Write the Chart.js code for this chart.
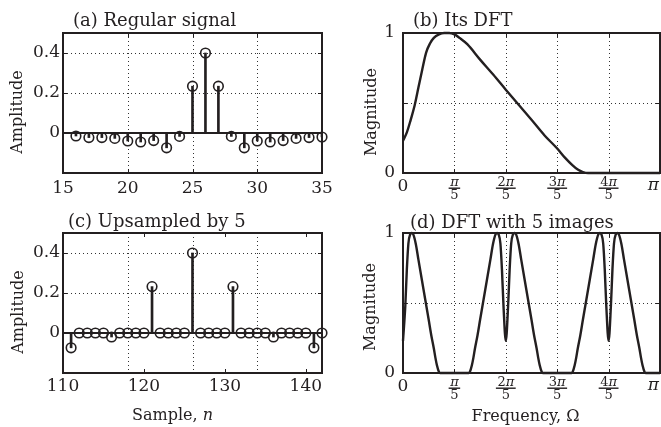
<!DOCTYPE html>
<html>
<head>
<meta charset="utf-8">
<script src="https://cdn.jsdelivr.net/npm/chart.js@4"></script>
<style>
html, body { margin: 0; padding: 0; background: #fff; }
body { width: 661px; height: 427px; position: relative; overflow: hidden; }
canvas { position: absolute; }
</style>
</head>
<body>
<canvas id="ca" width="340" height="200" style="left:0;top:0"></canvas>
<canvas id="cb" width="331" height="200" style="left:330px;top:0"></canvas>
<canvas id="cc" width="340" height="227" style="left:0;top:200px"></canvas>
<canvas id="cd" width="331" height="227" style="left:330px;top:200px"></canvas>
<script>
const serif = '"DejaVu Serif", serif';
const ink = '#231f20';

// (a) regular signal
const regN = [16, 17, 18, 19, 20, 21, 22, 23, 24, 25, 26, 27, 28, 29, 30, 31, 32, 33, 34, 35];
const regAmp = [-0.015, -0.023, -0.023, -0.027, -0.04, -0.045, -0.038, -0.074, -0.017, 0.234,
	0.4, 0.234, -0.017, -0.074, -0.04, -0.045, -0.038, -0.027, -0.023, -0.02];

// (c) upsampled by 5
const upN = [111, 112, 113, 114, 115, 116, 117, 118, 119, 120, 121, 122, 123, 124, 125, 126,
	127, 128, 129, 130, 131, 132, 133, 134, 135, 136, 137, 138, 139, 140, 141, 142];
const upAmp = [-0.074, 0, 0, 0, 0, -0.02, 0, 0, 0, 0, 0.232, 0, 0, 0, 0, 0.4,
	0, 0, 0, 0, 0.232, 0, 0, 0, 0, -0.02, 0, 0, 0, 0, -0.074, 0];

// (b) its DFT, frequency in units of pi
const dftFreq = [0, 0.015, 0.03, 0.045, 0.06, 0.075, 0.09, 0.105, 0.12, 0.14, 0.16, 0.18, 0.2, 0.22,
	0.25, 0.3, 0.35, 0.4, 0.45, 0.5, 0.55, 0.6, 0.63, 0.66, 0.68, 0.7, 0.72, 0.75, 0.8, 0.9, 1];
const dftMag = [0.23, 0.29, 0.38, 0.48, 0.61, 0.74, 0.86, 0.925, 0.965, 0.99, 1, 1, 0.99, 0.965,
	0.92, 0.81, 0.705, 0.595, 0.487, 0.38, 0.27, 0.175, 0.11, 0.055, 0.025, 0.007, 0, 0, 0, 0, 0];

// (d) DFT with 5 images
const imgFreq = [0, 0.009, 0.015, 0.021, 0.028, 0.034, 0.04, 0.05, 0.06, 0.08, 0.1, 0.11, 0.12, 0.126, 0.132, 0.14, 0.144,
	0.256, 0.26, 0.268, 0.274, 0.28, 0.29, 0.3, 0.32, 0.34, 0.35, 0.36, 0.366, 0.372, 0.379, 0.385, 0.391, 0.4,
	0.409, 0.415, 0.421, 0.428, 0.434, 0.44, 0.45, 0.46, 0.48, 0.5, 0.51, 0.52, 0.526, 0.532, 0.54, 0.544,
	0.656, 0.66, 0.668, 0.674, 0.68, 0.69, 0.7, 0.72, 0.74, 0.75, 0.76, 0.766, 0.772, 0.779, 0.785, 0.791, 0.8,
	0.809, 0.815, 0.821, 0.828, 0.834, 0.84, 0.85, 0.86, 0.88, 0.9, 0.91, 0.92, 0.926, 0.932, 0.94, 0.944, 1];
const imgMag = [0.23, 0.48, 0.74, 0.925, 0.99, 1, 0.99, 0.92, 0.81, 0.595, 0.38, 0.27, 0.175, 0.11, 0.055, 0.007, 0,
	0, 0.007, 0.055, 0.11, 0.175, 0.27, 0.38, 0.595, 0.81, 0.92, 0.99, 1, 0.99, 0.925, 0.74, 0.48, 0.23,
	0.48, 0.74, 0.925, 0.99, 1, 0.99, 0.92, 0.81, 0.595, 0.38, 0.27, 0.175, 0.11, 0.055, 0.007, 0,
	0, 0.007, 0.055, 0.11, 0.175, 0.27, 0.38, 0.595, 0.81, 0.92, 0.99, 1, 0.99, 0.925, 0.74, 0.48, 0.23,
	0.48, 0.74, 0.925, 0.99, 1, 0.99, 0.92, 0.81, 0.595, 0.38, 0.27, 0.175, 0.11, 0.055, 0.007, 0, 0];

// ticks and grids
const sampleTicksA = [15, 20, 25, 30, 35];
const sampleGridA = [20, 25, 30];
const sampleTicksC = [110, 120, 130, 140];
const sampleGridC = [118, 126, 134];
const ampTicks = [0, 0.2, 0.4];
const ampGrid = [0.2, 0.4];
const freqTicks = [0, 0.2, 0.4, 0.6, 0.8, 1];
const freqCoef = ['0', '', '2', '3', '4', ''];
const freqDen = ['', '5', '5', '5', '5', ''];
const freqGrid = [0.2, 0.4, 0.6, 0.8];
const magTicks = [0, 1];
const magTickMarks = [0, 0.5, 1];
const magGrid = [0.5];

// numerator like "2π": upright digit, italic pi, centred on cx
const drawPi = (ctx, coef, cx, by, size) => {
	const up = size + 'px ' + serif, it = 'italic ' + size + 'px ' + serif;
	ctx.font = up;
	const w1 = ctx.measureText(coef).width;
	ctx.font = it;
	const w2 = ctx.measureText('π').width;
	const sx = cx - (w1 + w2) / 2;
	ctx.textAlign = 'left';
	ctx.font = up;
	ctx.fillText(coef, sx, by);
	ctx.font = it;
	ctx.fillText('π', sx + w1, by);
	return w1 + w2;
};

// matlab-ish frame: dotted grid, inside ticks, box and the texts
const matlab = {
	id: 'matlab',
	beforeDatasetsDraw(chart, args, o) {
		const {ctx, chartArea: a} = chart;
		const x = chart.scales.x, y = chart.scales.y;
		ctx.save();
		ctx.strokeStyle = '#333';
		ctx.lineWidth = 1;
		ctx.setLineDash([1, 3]);
		ctx.beginPath();
		for (const v of o.gridX) {
			const p = Math.round(x.getPixelForValue(v)) + 0.5;
			ctx.moveTo(p, a.top);
			ctx.lineTo(p, a.bottom);
		}
		for (const v of o.gridY) {
			const p = Math.round(y.getPixelForValue(v)) + 0.5;
			ctx.moveTo(a.left, p);
			ctx.lineTo(a.right, p);
		}
		ctx.stroke();
		ctx.restore();
	},
	afterDraw(chart, args, o) {
		const {ctx, chartArea: a} = chart;
		const x = chart.scales.x, y = chart.scales.y;
		ctx.save();
		ctx.strokeStyle = ink;
		ctx.lineWidth = 1;
		ctx.beginPath();
		for (const v of o.tickX) {
			const p = Math.round(x.getPixelForValue(v)) + 0.5;
			ctx.moveTo(p, a.bottom); ctx.lineTo(p, a.bottom - 4);
			ctx.moveTo(p, a.top); ctx.lineTo(p, a.top + 4);
		}
		for (const v of o.tickY) {
			const p = Math.round(y.getPixelForValue(v)) + 0.5;
			ctx.moveTo(a.left, p); ctx.lineTo(a.left + 4, p);
			ctx.moveTo(a.right, p); ctx.lineTo(a.right - 4, p);
		}
		ctx.stroke();
		ctx.lineWidth = 2;
		ctx.strokeRect(a.left, a.top, a.right - a.left, a.bottom - a.top);

		ctx.fillStyle = ink;
		ctx.textBaseline = 'alphabetic';
		ctx.textAlign = 'left';
		ctx.font = '18px ' + serif;
		ctx.fillText(o.title, a.left + o.titleDX, a.top - o.titleDY);

		ctx.font = '16px ' + serif;
		ctx.save();
		ctx.translate(a.left - o.yTitleDX, a.top + o.yTitleDY);
		ctx.rotate(-Math.PI / 2);
		ctx.textAlign = 'center';
		ctx.textBaseline = 'middle';
		ctx.fillText(o.yTitle, 0, 0);
		ctx.restore();

		if (o.xTitle) {
			const italic = 'italic 16px ' + serif;
			ctx.font = '16px ' + serif;
			const w1 = ctx.measureText(o.xTitle[0]).width;
			ctx.font = italic;
			const w2 = o.xTitle[1] ? ctx.measureText(o.xTitle[1]).width : 0;
			const cx = (a.left + a.right) / 2 + o.xTitleDX;
			const by = a.bottom + o.xTitleDY;
			const sx = cx - (w1 + w2) / 2;
			ctx.font = '16px ' + serif;
			ctx.fillText(o.xTitle[0], sx, by);
			if (o.xTitle[1]) {
				ctx.font = italic;
				ctx.fillText(o.xTitle[1], sx + w1, by);
			}
		}

		if (o.fractions) {
			freqTicks.forEach((v, i) => {
				const p = x.getPixelForValue(v);
				if (v === 0) {
					ctx.textAlign = 'center';
					ctx.font = '17px ' + serif;
					ctx.fillText(freqCoef[i], p, a.bottom + 18);
					return;
				}
				if (!freqDen[i]) {
					ctx.font = 'italic 17px ' + serif;
					ctx.textAlign = 'right';
					ctx.fillText('π', p - 1, a.bottom + 17);
					return;
				}
				const w = drawPi(ctx, freqCoef[i], p, a.bottom + 13, 13) + 3;
				ctx.fillRect(p - w / 2, a.bottom + 14.5, w, 1.4);
				ctx.textAlign = 'center';
				ctx.font = '13px ' + serif;
				ctx.fillText(freqDen[i], p, a.bottom + 25.5);
			});
		}
		ctx.restore();
	}
};

Chart.defaults.font.family = serif;
Chart.defaults.color = ink;

const axis = (min, max, ticks, size, showLabels, pad, isX) => ({
	type: 'linear',
	min: min,
	max: max,
	offset: false,
	grid: {display: false, drawTicks: false},
	border: {display: false},
	afterBuildTicks: s => { s.ticks = ticks.map(v => ({value: v})); },
	afterFit: s => { if (isX) s.height = size; else s.width = size; },
	ticks: {
		display: showLabels,
		autoSkip: false,
		maxRotation: 0,
		padding: pad,
		font: {size: 17, family: serif},
		color: ink,
		callback: v => String(v),
	},
});

const stemChart = (id, n, amp, xMin, xMax, xTicks, frame, xHeight, xPad) => {
	const pts = n.map((v, i) => ({x: v, y: amp[i]}));
	return new Chart(document.getElementById(id), {
		type: 'bar',
		data: {
			datasets: [
				{type: 'line', data: [{x: xMin, y: 0}, {x: xMax, y: 0}], borderColor: ink, borderWidth: 2, pointRadius: 0, order: 3},
				{type: 'bar', data: pts, backgroundColor: ink, barThickness: 2, order: 2},
				{type: 'line', data: pts, showLine: false, pointRadius: 4.8, pointBorderWidth: 1.6,
					pointBorderColor: ink, pointBackgroundColor: 'rgba(0,0,0,0)', clip: false, order: 1},
			],
		},
		plugins: [matlab],
		options: {
			animation: false,
			responsive: false,
			events: [],
			layout: {padding: {left: 0, top: 33, right: 18, bottom: 0}},
			plugins: {legend: {display: false}, tooltip: {enabled: false}, matlab: frame},
			scales: {
				x: axis(xMin, xMax, xTicks, xHeight, true, xPad, true),
				y: axis(-0.2, 0.5, ampTicks, 63, true, 3, false),
			},
		},
	});
};

const specChart = (id, freq, mag, frame, xHeight) => new Chart(document.getElementById(id), {
	type: 'line',
	data: {
		datasets: [{
			data: freq.map((v, i) => ({x: v, y: mag[i]})),
			borderColor: ink,
			borderWidth: 2.4,
			pointRadius: 0,
			cubicInterpolationMode: 'monotone',
			clip: false,
		}],
	},
	plugins: [matlab],
	options: {
		animation: false,
		responsive: false,
		events: [],
		layout: {padding: {left: 0, top: 33, right: 1, bottom: 0}},
		plugins: {legend: {display: false}, tooltip: {enabled: false}, matlab: frame},
		scales: {
			x: axis(0, 1, freqTicks, xHeight, false, 0, true),
			y: axis(0, 1, magTicks, 73, true, 8, false),
		},
	},
});

stemChart('ca', regN, regAmp, 15, 35, sampleTicksA, {
	gridX: sampleGridA, gridY: ampGrid, tickX: sampleTicksA, tickY: ampTicks,
	title: '(a) Regular signal', titleDX: 10, titleDY: 7,
	yTitle: 'Amplitude', yTitleDX: 45, yTitleDY: 79,
}, 27, 5);

specChart('cb', dftFreq, dftMag, {
	gridX: freqGrid, gridY: magGrid, tickX: freqTicks, tickY: magTickMarks,
	title: '(b) Its DFT', titleDX: 10, titleDY: 7,
	yTitle: 'Magnitude', yTitleDX: 31, yTitleDY: 79,
	fractions: true,
}, 27);

stemChart('cc', upN, upAmp, 110, 142, sampleTicksC, {
	gridX: sampleGridC, gridY: ampGrid, tickX: sampleTicksC, tickY: ampTicks,
	title: '(c) Upsampled by 5', titleDX: 5, titleDY: 6,
	yTitle: 'Amplitude', yTitleDX: 44, yTitleDY: 79,
	xTitle: ['Sample, ', 'n'], xTitleDX: -20, xTitleDY: 47,
}, 54, 3.5);

specChart('cd', imgFreq, imgMag, {
	gridX: freqGrid, gridY: magGrid, tickX: freqTicks, tickY: magTickMarks,
	title: '(d) DFT with 5 images', titleDX: 7, titleDY: 5,
	yTitle: 'Magnitude', yTitleDX: 32, yTitleDY: 74,
	xTitle: ['Frequency, Ω', ''], xTitleDX: -6, xTitleDY: 48,
	fractions: true,
}, 54);
</script>
</body>
</html>
